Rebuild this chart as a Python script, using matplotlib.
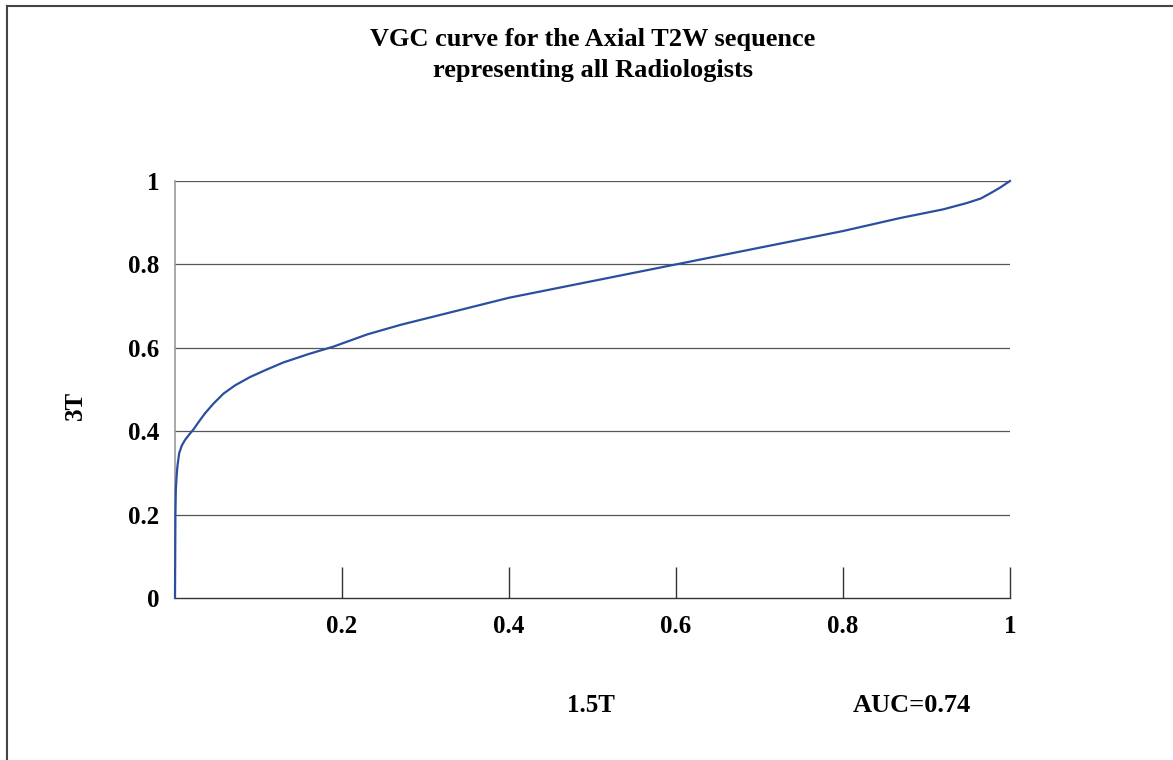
import matplotlib.pyplot as plt
from matplotlib.lines import Line2D

# VGC curve points (1.5T on x, 3T on y)
x_15t = [0.0, 0.0005, 0.001, 0.002, 0.003, 0.005, 0.008, 0.012, 0.017, 0.022,
         0.029, 0.036, 0.046, 0.058, 0.072, 0.09, 0.11, 0.13, 0.16, 0.19,
         0.23, 0.27, 0.33, 0.4, 0.5, 0.6, 0.7, 0.8, 0.868, 0.92, 0.948,
         0.965, 0.976, 0.988, 1.0]
y_3t = [0.0, 0.2, 0.26, 0.295, 0.318, 0.347, 0.365, 0.379, 0.392, 0.404,
        0.424, 0.443, 0.466, 0.49, 0.51, 0.53, 0.548, 0.565, 0.585, 0.603,
        0.632, 0.655, 0.685, 0.72, 0.76, 0.80, 0.84, 0.88, 0.911, 0.932, 0.947,
        0.958, 0.97, 0.984, 1.0]

x_ticks = [0.2, 0.4, 0.6, 0.8, 1.0]
x_tick_labels = ['0.2', '0.4', '0.6', '0.8', '1']
y_ticks = [0, 0.2, 0.4, 0.6, 0.8, 1.0]
y_tick_labels = ['0', '0.2', '0.4', '0.6', '0.8', '1']

title = 'VGC curve for the Axial T2W sequence\nrepresenting all Radiologists'
auc_text = 'AUC=0.74'

plt.rcParams['font.family'] = ['Liberation Serif', 'DejaVu Serif']
plt.rcParams['font.weight'] = 'bold'

fig = plt.figure(figsize=(11.73, 7.6), dpi=100)
W, H = 1173, 760
ax = fig.add_axes([175 / W, 1 - 598 / H, (1010 - 175) / W, (598 - 181) / H])

ax.plot(x_15t, y_3t, color='#2b4fa0', lw=1.6, clip_on=False, zorder=3,
        solid_joinstyle='round')

ax.set_xlim(0, 1)
ax.set_ylim(0, 1)
for yv in y_ticks[1:]:
    ax.axhline(yv, color='#555555', lw=0.9, zorder=1)

for s in ['top', 'right']:
    ax.spines[s].set_visible(False)
ax.spines['left'].set_color('#999999')
ax.spines['left'].set_linewidth(1.2)
ax.spines['bottom'].set_color('#333333')
ax.spines['bottom'].set_linewidth(1.0)

ax.set_xticks(x_ticks)
ax.set_xticklabels(x_tick_labels, fontsize=18, fontweight='bold')
ax.tick_params(axis='x', direction='in', length=22, width=1, color='#333333', pad=12)
ax.set_yticks(y_ticks)
ax.set_yticklabels(y_tick_labels, fontsize=18, fontweight='bold')
ax.tick_params(axis='y', length=0, pad=11)

fig.text(593 / W, 1 - 55 / H, title, ha='center', va='center', fontsize=19,
         fontweight='bold', linespacing=1.45)
fig.text(75 / W, 1 - 405 / H, '3T', ha='center', va='center', rotation=90,
         fontsize=18, fontweight='bold')
fig.text(591 / W, 1 - 706 / H, '1.5T', ha='center', va='center', fontsize=18,
         fontweight='bold')
fig.text(912 / W, 1 - 706 / H, auc_text, ha='center', va='center', fontsize=19,
         fontweight='bold')

# frame lines at top and left edge
fig.add_artist(Line2D([6.5 / W, 1], [1 - 5.5 / H, 1 - 5.5 / H], color='#444444', lw=1.5))
fig.add_artist(Line2D([6.5 / W, 6.5 / W], [0, 1 - 5.5 / H], color='#444444', lw=1.5))

fig.savefig('out.png', dpi=100, facecolor='white')
